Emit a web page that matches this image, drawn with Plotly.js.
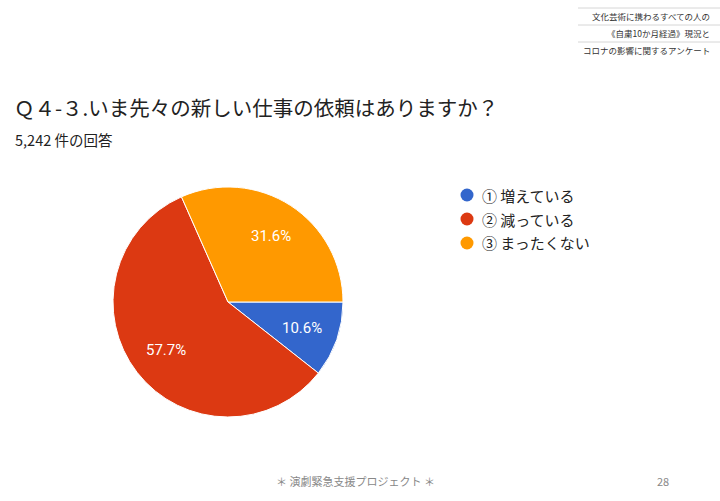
<!DOCTYPE html>
<html><head><meta charset="utf-8">
<script src="https://cdn.plot.ly/plotly-3.0.1.min.js"></script>
<style>html,body{margin:0;padding:0;background:#fff}#c{width:720px;height:501px}</style>
</head><body><div id="c"></div>
<script>
const labels = ['① 増えている', '② 減っている', '③ まったくない'];
const values = [10.6, 57.7, 31.6];
const colors = ['#3366cc', '#dc3912', '#ff9900'];
const titleText = 'Ｑ４-３.いま先々の新しい仕事の依頼はありますか？';
const subtitleText = '5,242 件の回答';
const headerLines = ['文化芸術に携わるすべての人の', '《自粛10か月経過》現況と', 'コロナの影響に関するアンケート'];
const footerText = '＊ 演劇緊急支援プロジェクト ＊';
const pageNo = '28';

const font = '"Noto Sans CJK JP", Roboto, "Noto Sans", sans-serif';
const W = 720, H = 501;
const px = x => x / W, py = y => 1 - y / H;

const annotations = [];
const shapes = [];
// header
headerLines.forEach((t, i) => {
  annotations.push({xref:'paper', yref:'paper', x:px(712), y:py(16 + i*17), xanchor:'right', yanchor:'middle',
    text:t, showarrow:false, font:{family:font, size:8.5, color:'#333'}});
});
[8, 25, 42].forEach(y => {
  shapes.push({type:'line', xref:'paper', yref:'paper', x0:px(578), x1:px(720), y0:py(y), y1:py(y), line:{color:'#d6d6d6', width:1}});
});
// title / subtitle
annotations.push({xref:'paper', yref:'paper', x:px(12), y:py(107), xanchor:'left', yanchor:'middle', text:titleText,
  showarrow:false, font:{family:font, size:20.5, color:'#222'}});
annotations.push({xref:'paper', yref:'paper', x:px(13), y:py(139), xanchor:'left', yanchor:'middle', text:subtitleText,
  showarrow:false, font:{family:font, size:14.5, color:'#222'}});
// legend
labels.forEach((l, i) => {
  const y = 195 + i*24;
  shapes.push({type:'circle', xref:'paper', yref:'paper', x0:px(460.5), x1:px(473.5), y0:py(y+6.5), y1:py(y-6.5),
    fillcolor:colors[i], line:{width:0}});
  annotations.push({xref:'paper', yref:'paper', x:px(480), y:py(y), xanchor:'left', yanchor:'middle', text:l,
    showarrow:false, font:{family:font, size:15, color:'#222'}});
});
// footer
annotations.push({xref:'paper', yref:'paper', x:px(355), y:py(481), xanchor:'center', yanchor:'middle', text:footerText,
  showarrow:false, font:{family:font, size:11, color:'#888'}});
annotations.push({xref:'paper', yref:'paper', x:px(663), y:py(481), xanchor:'center', yanchor:'middle', text:pageNo,
  showarrow:false, font:{family:font, size:11, color:'#888'}});

// pie geometry
const cx = 228, cy = 302, R = 115;
// slice percentage labels placed at slice mid-angle (Google-Charts style)
const total = values.reduce((a, b) => a + b, 0);
let cum = 0;
values.forEach((v, i) => {
  const mid = (cum + v / 2) / total * 2 * Math.PI; // clockwise from 3 o'clock
  cum += v;
  const r = R * 0.68;
  annotations.push({xref:'paper', yref:'paper', x:px(cx + r * Math.cos(mid)), y:py(cy + r * Math.sin(mid)),
    xanchor:'center', yanchor:'middle', text:v.toFixed(1) + '%', showarrow:false,
    font:{family:'Roboto, Arial, sans-serif', size:15, color:'#fff'}});
});

const data = [{
  type:'pie', labels:labels, values:values, sort:false, direction:'clockwise', rotation:90,
  marker:{colors:colors, line:{color:'#fff', width:1}},
  textinfo:'none',
  domain:{x:[px(cx - R), px(cx + R)], y:[py(cy + R), py(cy - R)]},
  showlegend:false, hoverinfo:'none'
}];
const layout = {width:W, height:H, margin:{l:0,r:0,t:0,b:0}, paper_bgcolor:'#fff', showlegend:false,
  annotations:annotations, shapes:shapes};
Plotly.newPlot('c', data, layout, {displayModeBar:false, staticPlot:true});
</script></body></html>
